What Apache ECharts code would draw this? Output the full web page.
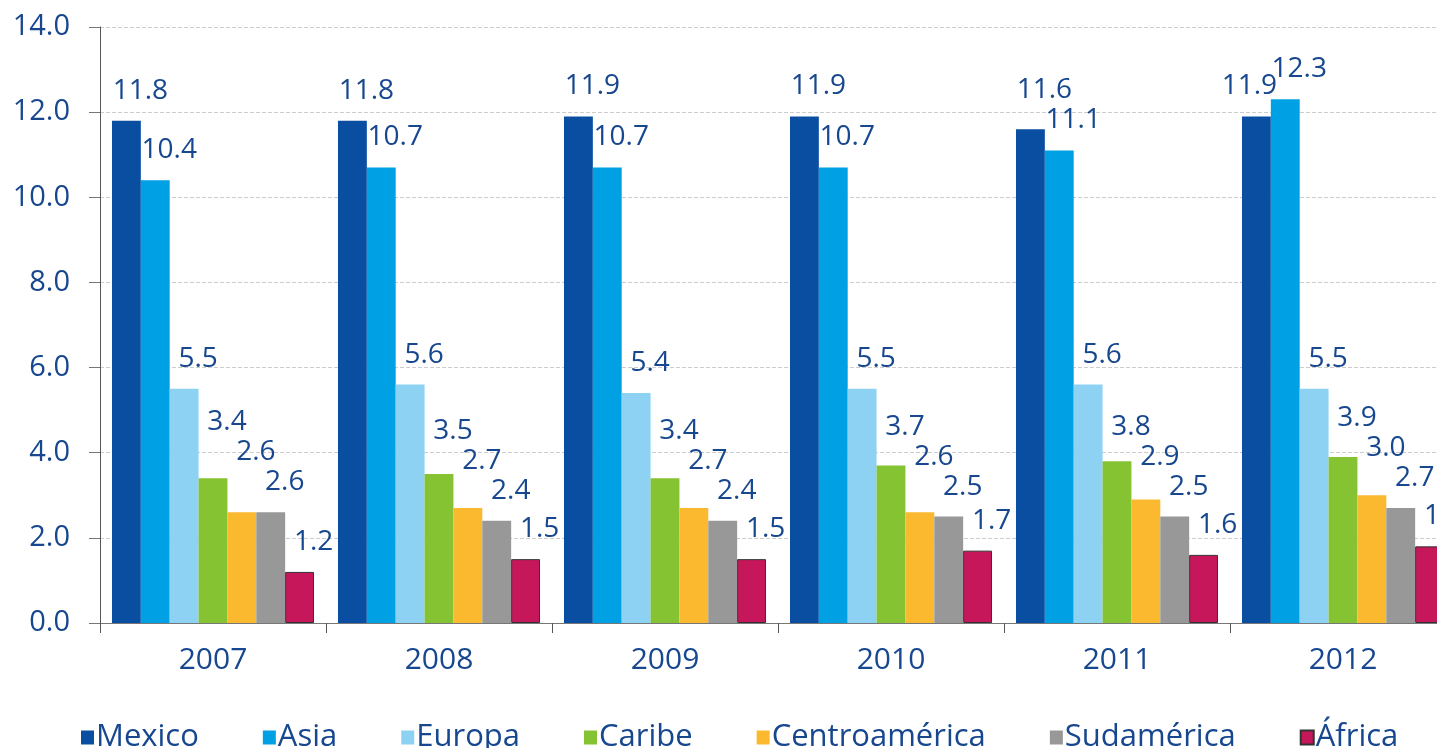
<!DOCTYPE html>
<html>
<head>
<meta charset="utf-8">
<script src="https://cdn.jsdelivr.net/npm/echarts@6/dist/echarts.min.js"></script>
<style>
    html, body { margin: 0; padding: 0; background: #fff; overflow: hidden; }
    /* el gráfico original está recortado a la derecha */
    .main { width: 1460px; height: 748px; }
</style>
</head>
<body>
<div class="main"></div>
<script>
// 資料
let years = ['2007', '2008', '2009', '2010', '2011', '2012'];
let seriesNames = ['Mexico', 'Asia', 'Europa', 'Caribe', 'Centroamérica', 'Sudamérica', 'África'];
let mexico = [11.8, 11.8, 11.9, 11.9, 11.6, 11.9];
let asia = [10.4, 10.7, 10.7, 10.7, 11.1, 12.3];
let europa = [5.5, 5.6, 5.4, 5.5, 5.6, 5.5];
let caribe = [3.4, 3.5, 3.4, 3.7, 3.8, 3.9];
let centroamerica = [2.6, 2.7, 2.7, 2.6, 2.9, 3.0];
let sudamerica = [2.6, 2.4, 2.4, 2.5, 2.5, 2.7];
let africa = [1.2, 1.5, 1.5, 1.7, 1.6, 1.8];
let yTicks = [0, 2, 4, 6, 8, 10, 12, 14];

let seriesValues = [mexico, asia, europa, caribe, centroamerica, sudamerica, africa];
let colors = ['#0a4ea1', '#00a0e4', '#8dd1f3', '#86c332', '#fbb930', '#989898', '#c6175b'];
let textColor = '#17478f';
let fontFamily = '"Open Sans", sans-serif';

let labelLift = 30;   // 標籤中心距離柱頂
let labelStep = 30;   // 重疊時往上推的距離
let labelShift = 14;  // 標籤往右偏移

let myChart = echarts.init(document.querySelector('.main'));

// 標籤垂直位置: 若與右邊的標籤重疊就往上推 (像 Excel 一樣)
let labelY = function(seriesIndex, dataIndex) {
    let value = seriesValues[seriesIndex][dataIndex];
    let y = myChart.convertToPixel({ yAxisIndex: 0 }, value) - labelLift;
    let next = seriesValues[seriesIndex + 1];
    if (next && next[dataIndex] <= value) {
        let ny = labelY(seriesIndex + 1, dataIndex);
        if (y > ny - labelStep) {
            y = ny - labelStep;
        }
    }
    return y;
};

let labelLayout = function(params) {
    let si = params.seriesIndex;
    let di = params.dataIndex;
    let next = seriesValues[si + 1];
    let x = params.rect.x + params.rect.width / 2 + labelShift;
    // 比右邊的柱子矮: 標籤往左移
    if (next && next[di] > seriesValues[si][di]) {
        x = params.rect.x + params.rect.width / 2 - 7;
    }
    return {
        x: x,
        y: labelY(si, di),
        align: 'center',
        verticalAlign: 'middle'
    };
};

let series = seriesNames.map(function(name, i) {
    let item = {
        name: name,
        type: 'bar',
        data: seriesValues[i],
        barGap: '0%',
        barCategoryGap: '10.6%',
        itemStyle: {
            color: colors[i]
        },
        label: {
            show: true,
            position: 'top',
            color: textColor,
            fontSize: 28,
            fontFamily: fontFamily,
            formatter: function(p) {
                return p.value.toFixed(1);
            }
        },
        labelLayout: labelLayout
    };
    if (name === 'África') {
        item.itemStyle.borderColor = '#333';
        item.itemStyle.borderWidth = 1;
    }
    return item;
});

let options = {
    animation: false,
    color: colors,
    grid: {
        left: 100,
        right: 4,
        top: 27,
        bottom: 125
    },
    legend: {
        top: 717,
        left: 76,
        itemWidth: 13,
        itemHeight: 14,
        itemGap: 64,
        icon: 'rect',
        textStyle: {
            color: textColor,
            fontSize: 31,
            fontFamily: fontFamily,
            padding: [0, 0, 0, -3]
        },
        data: seriesNames
    },
    xAxis: {
        type: 'category',
        data: years,
        axisLine: {
            lineStyle: { color: '#777', width: 1 }
        },
        axisTick: {
            show: true,
            length: 10,
            lineStyle: { color: '#555' }
        },
        axisLabel: {
            color: textColor,
            fontSize: 30,
            fontFamily: fontFamily,
            margin: 22
        }
    },
    yAxis: {
        type: 'value',
        min: yTicks[0],
        max: yTicks[yTicks.length - 1],
        interval: 2,
        axisLine: {
            show: true,
            lineStyle: { color: '#555', width: 1 }
        },
        axisTick: {
            show: true,
            length: 11,
            lineStyle: { color: '#777' }
        },
        axisLabel: {
            color: textColor,
            fontSize: 29,
            fontFamily: fontFamily,
            margin: 30,
            formatter: function(v) {
                return v.toFixed(1);
            }
        },
        splitLine: {
            show: true,
            lineStyle: { color: '#ccc', type: 'dashed' }
        }
    },
    series: series
};

myChart.setOption(options);
</script>
</body>
</html>
